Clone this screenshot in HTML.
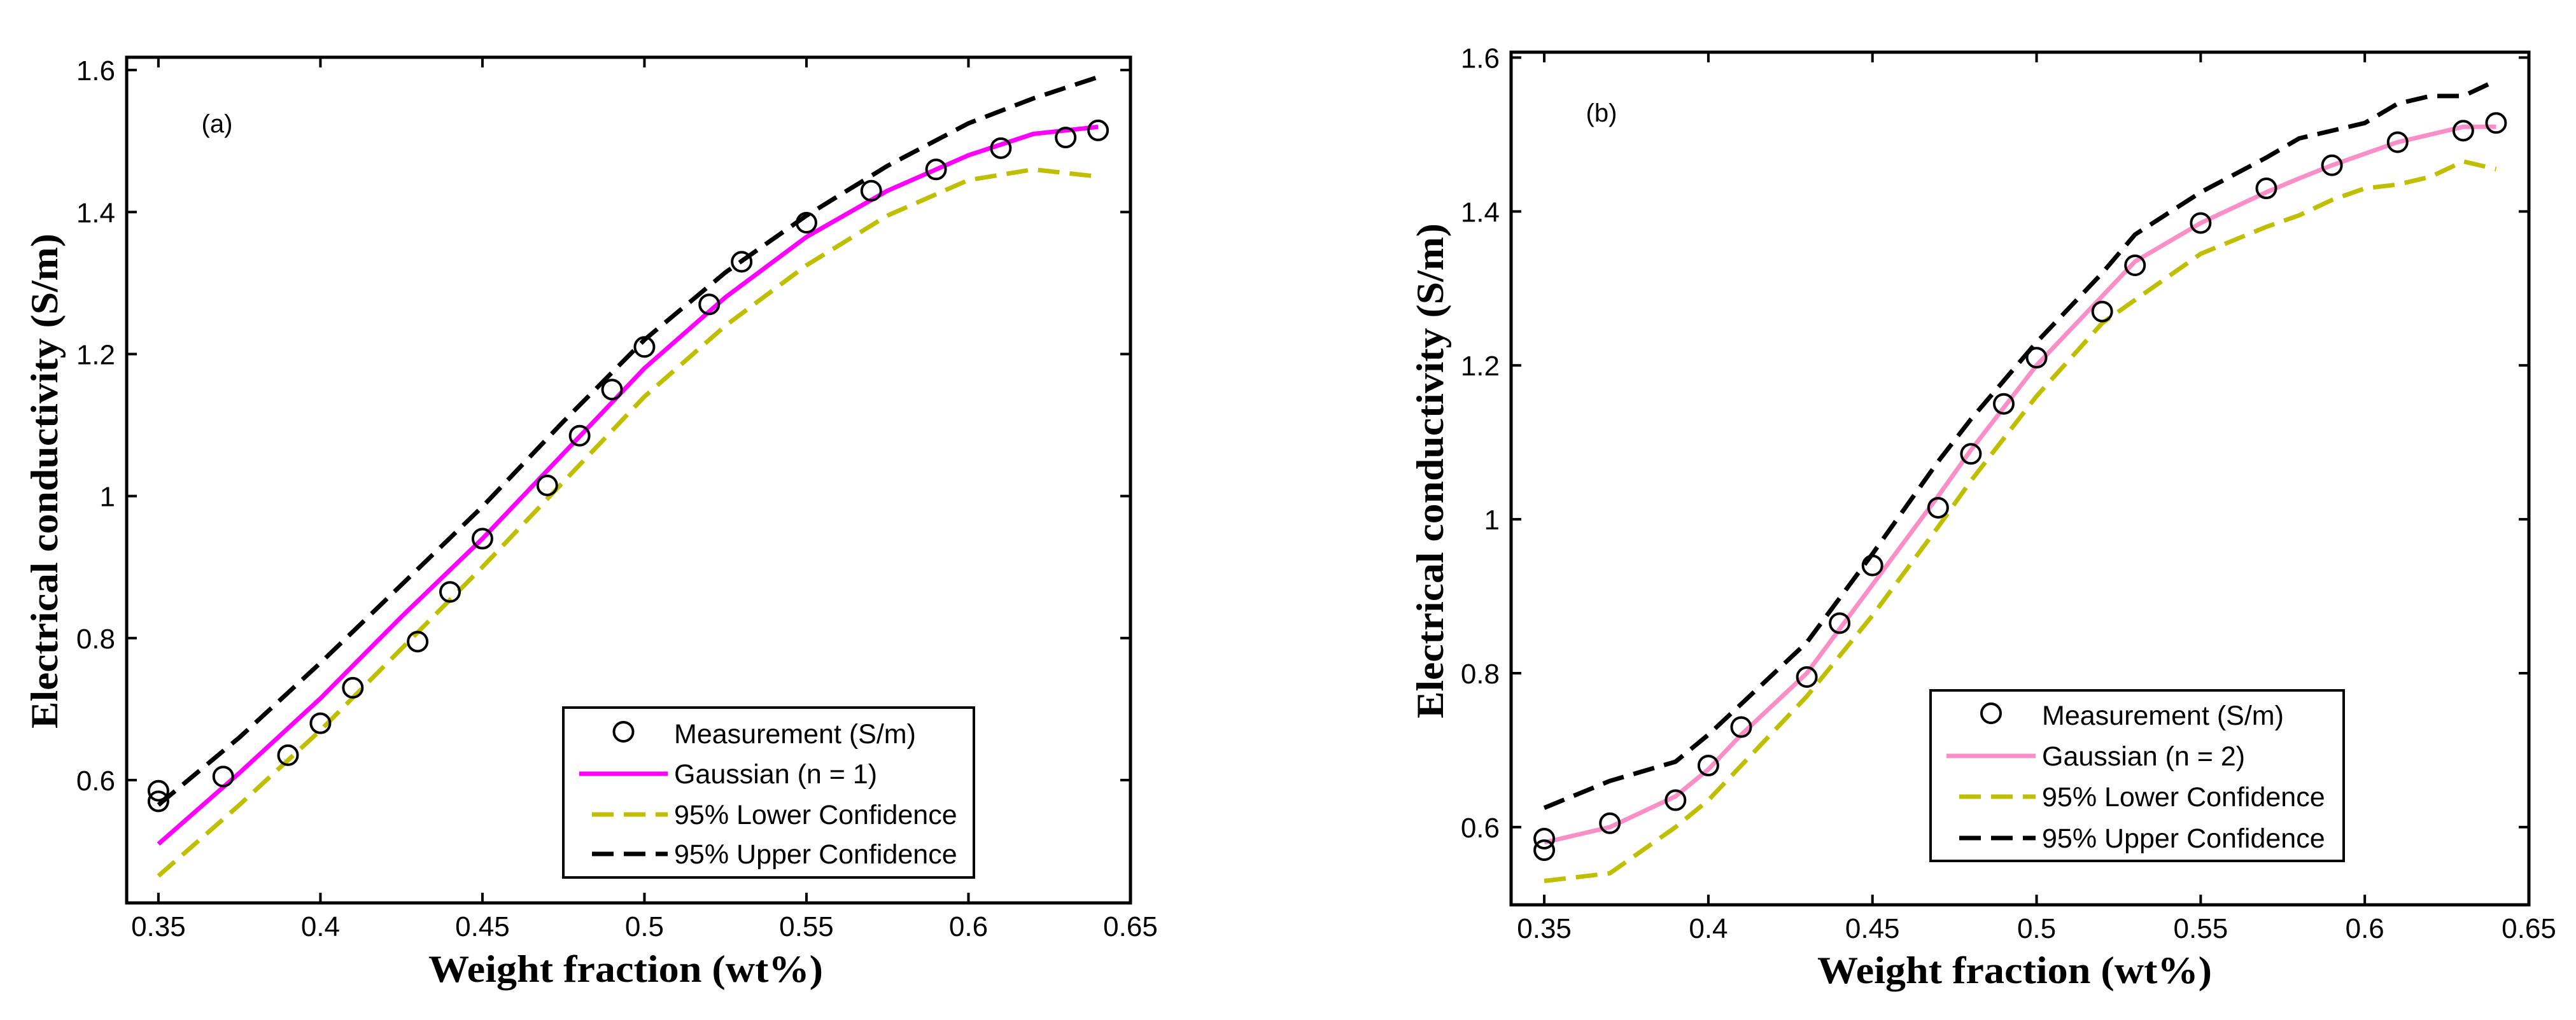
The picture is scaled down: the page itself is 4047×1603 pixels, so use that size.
<!DOCTYPE html>
<html><head><meta charset="utf-8"><style>
html,body{margin:0;padding:0;background:#fff;}
svg{display:block;}
</style></head><body>
<svg id="chart" width="4047" height="1603" viewBox="0 0 4047 1603" xmlns="http://www.w3.org/2000/svg">
<rect x="0" y="0" width="4047" height="1603" fill="#fff"/>
</svg>
<script>
// ---- data ----
const measX = [0.35,0.35,0.37,0.39,0.40,0.41,0.43,0.44,0.45,0.47,0.48,0.49,0.50,0.52,0.53,0.55,0.57,0.59,0.61,0.63,0.64];
const measY = [0.585,0.57,0.605,0.635,0.68,0.73,0.795,0.865,0.94,1.015,1.085,1.15,1.21,1.27,1.33,1.385,1.43,1.46,1.49,1.505,1.515];

const aFitX = [0.35,0.375,0.40,0.425,0.45,0.475,0.50,0.525,0.55,0.575,0.60,0.62,0.64];
const aFitY = [0.51,0.61,0.715,0.83,0.94,1.06,1.18,1.28,1.365,1.43,1.48,1.51,1.52];
const aUpY  = [0.565,0.66,0.765,0.875,0.985,1.105,1.22,1.315,1.395,1.465,1.525,1.56,1.59];
const aLoY  = [0.465,0.565,0.67,0.785,0.90,1.02,1.14,1.24,1.325,1.395,1.445,1.46,1.45];

const bFitX = [0.35,0.37,0.39,0.40,0.41,0.43,0.45,0.47,0.48,0.50,0.52,0.53,0.55,0.57,0.58,0.59,0.60,0.61,0.62,0.63,0.64];
const bFitY = [0.58,0.60,0.64,0.675,0.72,0.80,0.915,1.03,1.09,1.20,1.29,1.335,1.385,1.425,1.443,1.46,1.475,1.49,1.50,1.51,1.51];
const bUpY  = [0.625,0.66,0.685,0.72,0.76,0.84,0.955,1.075,1.13,1.23,1.32,1.37,1.425,1.47,1.495,1.505,1.515,1.54,1.55,1.55,1.57];
const bLoY  = [0.53,0.54,0.60,0.635,0.68,0.77,0.875,0.99,1.05,1.16,1.255,1.285,1.345,1.38,1.395,1.415,1.43,1.435,1.445,1.465,1.455];

const xTicks = [0.35,0.40,0.45,0.50,0.55,0.60,0.65];
const xTickLabels = ["0.35","0.4","0.45","0.5","0.55","0.6","0.65"];
const aYTicks = [0.6,0.8,1.0,1.2,1.4,1.6];
const aYTickLabels = ["0.6","0.8","1","1.2","1.4","1.6"];
const bYTicks = [0.6,0.8,1.0,1.2,1.4,1.6];
const bYTickLabels = ["0.6","0.8","1","1.2","1.4","1.6"];

const NS = "http://www.w3.org/2000/svg";
const svg = document.getElementById('chart');
function mk(tag, attrs, parent){
  const e = document.createElementNS(NS, tag);
  for (const k in attrs) e.setAttribute(k, attrs[k]);
  (parent||svg).appendChild(e);
  return e;
}

function panel(p){
  const g = mk('g', {});
  
  
  const sx = v => p.L + (v - p.xmin) / (p.xmax - p.xmin) * (p.R - p.L);
  const sy = v => p.B - (v - p.ymin) / (p.ymax - p.ymin) * (p.B - p.T);
  const path = (xs, ys) => xs.map((x,i)=>(i?'L':'M')+sx(x).toFixed(1)+' '+sy(ys[i]).toFixed(1)).join(' ');

  // curves
  const up = mk('path', {d:path(p.fitX,p.upY), fill:'none', stroke:'#000', 'stroke-width':7, 'stroke-dasharray':'34 16'}, g);
  
  
  const lo = mk('path', {d:path(p.fitX,p.loY), fill:'none', stroke:'#bfbf00', 'stroke-width':7, 'stroke-dasharray':'34 16'}, g);
  
  
  const fit = mk('path', {d:path(p.fitX,p.fitY), fill:'none', stroke:p.fitColor, 'stroke-width':7}, g);
  
  
  // markers
  measX.forEach((x,i)=>{
    const c = mk('circle', {cx:sx(x), cy:sy(measY[i]), r:15, fill:'none', stroke:'#000', 'stroke-width':4}, g);
    
    
  });
  // axes box
  const box = mk('rect', {x:p.L, y:p.T, width:p.R-p.L, height:p.B-p.T, fill:'none', stroke:'#000', 'stroke-width':5}, g);
  
  
  // x ticks
  xTicks.forEach((v,i)=>{
    const x = sx(v);
    mk('line', {x1:x, y1:p.B, x2:x, y2:p.B-16, stroke:'#000', 'stroke-width':4}, g);
    mk('line', {x1:x, y1:p.T, x2:x, y2:p.T+16, stroke:'#000', 'stroke-width':4}, g);
    const t = mk('text', {x:x, y:p.B+52, 'text-anchor':'middle', 'font-family':'Liberation Sans, sans-serif', 'font-size':44, fill:'#000'}, g);
    t.textContent = xTickLabels[i];
    
    
  });
  // y ticks
  p.yTicks.forEach((v,i)=>{
    const y = sy(v);
    mk('line', {x1:p.L, y1:y, x2:p.L+16, y2:y, stroke:'#000', 'stroke-width':4}, g);
    mk('line', {x1:p.R, y1:y, x2:p.R-16, y2:y, stroke:'#000', 'stroke-width':4}, g);
    const t = mk('text', {x:p.L-18, y:y+16, 'text-anchor':'end', 'font-family':'Liberation Sans, sans-serif', 'font-size':44, fill:'#000'}, g);
    t.textContent = p.yTickLabels[i];
    
    
  });
  // panel tag
  const tag = mk('text', {x:p.tagX, y:p.tagY+14, 'text-anchor':'middle', 'font-family':'Liberation Sans, sans-serif', 'font-size':40, fill:'#000'}, g);
  tag.textContent = p.tag;
  
  
  // axis titles
  const xt = mk('text', {x:p.xlX, y:p.xlY+20, 'text-anchor':'middle', 'font-family':'Liberation Serif, serif', 'font-weight':'bold', 'font-size':60, textLength:620, lengthAdjust:'spacingAndGlyphs', fill:'#000'}, g);
  xt.textContent = 'Weight fraction (wt%)';
  
  
  const yt = mk('text', {x:0, y:0, transform:`translate(${p.ylX+20},${p.ylY}) rotate(-90)`, 'text-anchor':'middle', 'font-family':'Liberation Serif, serif', 'font-weight':'bold', 'font-size':60, textLength:778, lengthAdjust:'spacingAndGlyphs', fill:'#000'}, g);
  yt.textContent = 'Electrical conductivity (S/m)';
  
  
  // legend
  const lg = mk('g', {}, g);
  
  
  mk('rect', {x:p.lgX1, y:p.lgY1, width:p.lgX2-p.lgX1, height:p.lgY2-p.lgY1, fill:'#fff', stroke:'#000', 'stroke-width':4}, lg);
  const labels = ['Measurement (S/m)', p.fitLabel, '95% Lower Confidence', '95% Upper Confidence'];
  labels.forEach((lab,i)=>{
    const y = p.rows[i];
    if (i===0){
      mk('circle', {cx:(p.sX1+p.sX2)/2, cy:y-3, r:15, fill:'none', stroke:'#000', 'stroke-width':4}, lg);
    } else {
      const col = i===1 ? p.fitColor : (i===2 ? '#bfbf00' : '#000');
      const attrs = {x1:p.sX1, y1:y, x2:p.sX2, y2:y, stroke:col, 'stroke-width':7};
      if (i>1){ attrs['stroke-dasharray']='34 16'; attrs.x1 = p.sX1+20; }
      mk('line', attrs, lg);
    }
    const t = mk('text', {x:p.tX, y:y+15, 'font-family':'Liberation Sans, sans-serif', 'font-size':43, fill:'#000'}, lg);
    t.textContent = lab;
    
    
  });
}

panel({name:'panel-a', L:199, R:1776, T:90, B:1419, xmin:0.3402, xmax:0.65, ymin:0.427, ymax:1.618,
  fitX:aFitX, fitY:aFitY, upY:aUpY, loY:aLoY, fitColor:'#ff00ff', fitLabel:'Gaussian (n = 1)',
  yTicks:aYTicks, yTickLabels:aYTickLabels, tag:'(a)', tagX:341, tagY:194,
  xlX:983, xlY:1523, ylX:70, ylY:756,
  lgX1:885, lgX2:1530, lgY1:1112, lgY2:1379, rows:[1153,1216,1280,1342], sX1:910, sX2:1049, tX:1059});

panel({name:'panel-b', L:2374, R:3973, T:82, B:1422, xmin:0.3399, xmax:0.65, ymin:0.499, ymax:1.607,
  fitX:bFitX, fitY:bFitY, upY:bUpY, loY:bLoY, fitColor:'#f98fc6', fitLabel:'Gaussian (n = 2)',
  yTicks:bYTicks, yTickLabels:bYTickLabels, tag:'(b)', tagX:2516, tagY:177,
  xlX:3165, xlY:1525, ylX:2247, ylY:740,
  lgX1:3033, lgX2:3682, lgY1:1085, lgY2:1353, rows:[1124,1188,1252,1317], sX1:3058, sX2:3198, tX:3208});
</script>
</body></html>
